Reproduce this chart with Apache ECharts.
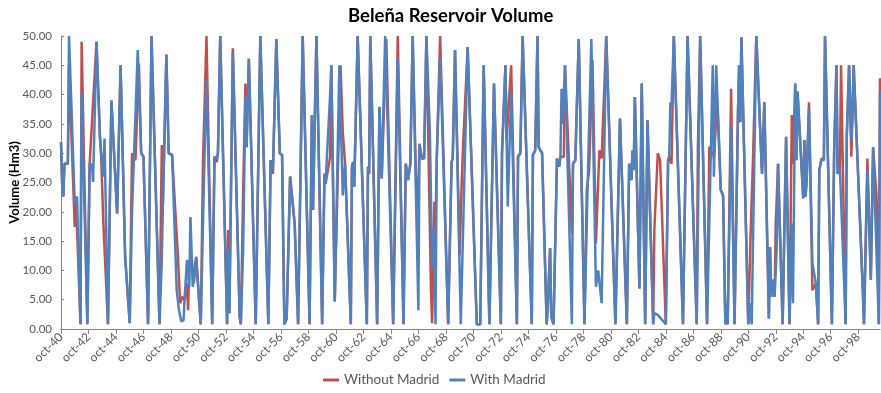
<!DOCTYPE html>
<html>
<head>
<meta charset="utf-8">
<script src="https://cdn.jsdelivr.net/npm/echarts@6/dist/echarts.min.js"></script>
<style>
  html, body { margin: 0; padding: 0; background: #ffffff; }
  #chart { width: 881px; height: 393px; }
</style>
</head>
<body>
<div id="chart"></div>
<script>
// Monthly reservoir volume (Hm3), keyed by months elapsed since October 1940.
// Each pair is [month, volume]; the line joins consecutive monthly readings.
const tickLabels = ['oct-40','oct-42','oct-44','oct-46','oct-48','oct-50','oct-52','oct-54','oct-56','oct-58',
  'oct-60','oct-62','oct-64','oct-66','oct-68','oct-70','oct-72','oct-74','oct-76','oct-78',
  'oct-80','oct-82','oct-84','oct-86','oct-88','oct-90','oct-92','oct-94','oct-96','oct-98'];
const lastMonth = 715;

const withoutMadrid = [
  [0,31.9],[1,24.8],[2,22.6],[3,28.2],[6,28.2],[7,44.7],[12,17.4],[13,22.6],[17,0.8],[18,49],[23,0.8],[25,28.2],[27,35],[31,49],[34,32.8],[35,30],[37,18],[41,0.8],[44,39],[49,19.7],[52,45],[56,12.3],[60,1],
  [62,30],[65,28.8],[68,45.3],[70,30],[72,29.4],[76,0.8],[79,50],[86,0.8],[88,31.4],[89,21.4],[92,46.9],[94,30],[97,29.7],[102,12.7],[104,4.4],[106,5.5],[108,4.9],[110,7.8],[111,3.2],[112,11.2],[114,12.3],[116,7.8],[118,12.3],[122,0.8],[124,28.8],[127,50],
  [132,0.8],[134,29.4],[136,28.5],[137,30],[139,50],[145,0.8],[146,16.9],[147,2.7],[150,47.9],[156,2.1],[157,0.8],[159,23.4],[161,41.9],[162,31],[164,46.1],[170,0.8],[174,50],[181,0.8],[183,28.8],[185,26.5],[188,49.5],[191,30],
  [193,29.7],[195,0.8],[197,1.8],[200,26],[201,26.2],[204,18],[207,0.8],[211,50],[217,0.8],[219,36.5],[220,20.3],[223,50],[228,0.8],[230,26.5],[231,24.8],[235,29.4],[236,45],[239,4.7],[244,45],[246,33.6],[248,28.2],[253,0.8],[254,27.7],[255,28.5],[256,24.3],
  [259,50],[267,0.8],[268,27.7],[269,26.5],[270,50],[276,0.8],[278,37.9],[280,25.7],[284,49.5],[290,0.8],[294,50],[299,0.8],[301,28.2],[303,25.4],[305,28.2],[307,50],[311,16.9],[313,31.6],[315,29.1],[317,29.1],[319,50],[323,6.6],[324,1],[326,21.7],[327,17.4],[328,28.8],[331,50],
  [338,0.8],[339,0.8],[341,28.5],[342,29.1],[344,47.6],[348,12.6],[350,26],[351,31],[355,48.1],[363,0.8],[366,0.8],[369,45],[374,0.8],[378,41.9],[384,0.8],[385,30],[388,45],[389,32.2],[393,45],[398,0.8],[399,29.4],[401,30],[403,50],[404,50],[411,0.8],[412,29.7],[414,30.5],[416,50],[417,31],[420,30],[424,0.8],[425,4.1],[427,13.8],[428,2.1],[430,0.8],[433,29.1],[435,27.7],[436,29.4],[439,29.4],[440,45],[446,16.3],[447,28.2],[449,28.8],[452,49.5],
  [457,0.8],[459,23.7],[461,26.8],[464,45.9],[467,14.6],[470,30.5],[472,29.1],[476,50],[484,0.8],[488,35.9],[494,0.8],[496,28.2],[498,25.4],[499,30.5],[500,27.1],[501,39.6],[505,6.9],[507,41.9],[510,0.8],[512,35.6],[517,0.8],[518,16.9],[521,30],[523,28.8],[528,0.8],[530,28.8],[531,29.4],[533,28.2],[535,50],[543,0.8],[547,50],[555,0.8],[556,30.8],[558,50],[564,0.8],[566,31.1],[570,29.4],[573,38.7],[576,23.7],[578,22.8],[580,0.8],[581,4.4],[582,0.8],[585,41],[588,0.8],
  [591,36.8],[592,45],[593,35.3],[594,49.8],[600,0.8],[602,15.8],[604,28.2],[607,50],[612,26.5],[614,38.7],[618,1.8],[619,14],[620,5.5],[621,8.4],[623,5.5],[624,18],[626,28.2],[630,0.8],[633,32.8],[636,0.8],[638,36.5],[639,28.2],[641,41.9],[642,28.8],[643,40.5],[648,22.3],[649,32.2],[650,22.6],[651,25.4],[653,38.7],[656,6.6],[659,7.8],[661,0.8],[662,27.1],[664,29.1],[666,28.8],[667,50],[673,0.8],[675,30.5],[677,45],[678,26.5],[680,27.4],[681,45],[685,0.8],[686,32.8],[688,45],[690,29.4],[692,45],[700,6.6],[701,0.8],[704,29.1],[707,8.4],[709,31],[712,22.6],[714,0.8],[715,42.8]
];

const withMadrid = [
  [0,31.9],[1,24.8],[2,22.6],[3,28.2],[6,28.2],[7,50],[8,50],[12,21.4],[14,22.6],[17,0.8],[18,40.2],[23,0.8],[25,28.2],[27,28],[28,25.1],[31,49],[34,32.8],[35,30],[37,26],[38,32.5],[41,0.8],[44,39],[49,19.7],[52,45],[56,12.3],[60,1],
  [62,20],[67,47.6],[70,30],[72,29.4],[76,0.8],[79,50],[86,0.8],[88,11.8],[89,21.4],[92,46.7],[94,30],[97,29.7],[101,6.6],[103,3.2],[105,1.3],[107,1.5],[108,5.5],[110,11.8],[112,7.2],[113,19.1],[115,7.2],[118,12.3],[122,0.8],[125,27.1],[127,42.7],
  [132,0.8],[134,29.4],[136,29],[137,30],[139,50],[145,0.8],[146,13.5],[147,2.7],[150,47.3],[156,2.1],[157,0.8],[159,13.5],[161,39.6],[162,31],[164,46.1],[170,0.8],[174,50],[181,0.8],[183,28.8],[185,27.1],[188,49.5],[191,30],
  [193,29.7],[195,0.8],[197,1.8],[200,26],[201,26.2],[204,18],[207,0.8],[211,50],[217,0.8],[219,36.5],[220,20.3],[223,50],[228,0.8],[230,26.5],[231,24.8],[235,40.2],[236,45],[239,4.7],[243,45],[246,22.8],[248,28.2],[253,0.8],[254,27.7],[255,28.5],[256,24.3],
  [259,50],[267,0.8],[268,27.7],[269,26.5],[270,50],[276,0.8],[278,37.9],[280,25.7],[283,50],[290,0.8],[294,46.4],[299,0.8],[301,28.2],[303,25.4],[305,28.2],[307,50],[312,3.2],[313,31.6],[315,29.1],[317,29.1],[319,50],[322,33.8],[324,10.6],[325,17.4],[327,0.8],[328,28.8],[331,46.4],
  [338,0.8],[339,0.8],[341,28.5],[342,29.1],[344,47.6],[349,0.8],[355,48.1],[363,0.8],[366,0.8],[369,45],[374,0.8],[378,41.9],[384,0.8],[385,30],[388,45],[390,20.9],[393,40.5],[398,0.8],[399,29.4],[401,30],[403,50],[404,50],[411,0.8],[412,29.7],[414,30.5],[416,50],[417,31],[420,30],[424,0.8],[425,4.1],[427,13.8],[428,2.1],[430,0.8],[433,29.1],[435,27.7],[436,29.4],[437,41],[438,35],[440,45],[446,0.8],[447,28.2],[449,28.8],[452,49.5],
  [457,0.8],[460,26.5],[461,26.8],[463,49.5],[467,7.2],[469,10],[472,4.4],[476,50],[484,0.8],[488,35.9],[494,0.8],[496,28.2],[498,25.4],[499,30.5],[500,27.1],[501,39.6],[505,6.9],[507,41.9],[510,0.8],[512,35.6],[517,0.8],[518,2.7],[521,2.4],[528,0.8],[530,28.8],[531,29.4],[532,38.7],[533,37.9],[535,50],[543,0.8],[547,50],[555,0.8],[558,50],[564,0.8],[569,45],[570,26],[572,45],[576,23.7],[578,22.8],[580,0.8],[581,4.1],[582,0.8],[585,34.8],[588,0.8],
  [591,36.8],[592,45],[593,35.3],[594,49.8],[600,0.8],[601,4.4],[603,0.8],[607,50],[612,26.5],[614,38.7],[618,1.8],[619,14],[620,5.5],[621,8.4],[623,5.5],[625,14.6],[626,28.2],[630,0.8],[633,32.8],[636,0.8],[638,18],[639,4.4],[641,41.9],[642,28.8],[643,40.5],[648,22.3],[649,32.2],[650,22.6],[651,25.4],[653,37.6],[656,11.2],[659,7.8],[661,0.8],[662,27.1],[664,29.1],[666,28.8],[667,50],[673,0.8],[675,30.5],[677,45],[678,26.5],[680,27.4],[685,0.8],[686,32.8],[688,45],[690,32.2],[691,36.5],[692,45],[700,6.6],[701,0.8],[704,27.1],[707,8.4],[709,31],[714,0.8],[715,40.7]
];

const FONT = 'Lato, "Liberation Sans", sans-serif';
const AXIS_GREY = '#868686';
const LABEL_GREY = '#595959';

const chart = echarts.init(document.getElementById('chart'), null, { renderer: 'canvas' });
chart.setOption({
  animation: false,
  backgroundColor: '#ffffff',
  title: {
    text: 'Beleña Reservoir Volume',
    left: 343,
    top: 2,
    textStyle: { fontFamily: FONT, fontSize: 18.5, fontWeight: 'bold', color: '#000000' }
  },
  legend: {
    left: 318,
    bottom: 1,
    icon: 'rect',
    itemWidth: 16,
    itemHeight: 3,
    itemGap: 10,
    textStyle: { fontFamily: FONT, fontSize: 13.5, color: LABEL_GREY },
    data: ['Without Madrid', 'With Madrid']
  },
  grid: { left: 61, right: 1, top: 36, bottom: 64, outerBoundsMode: 'none', containLabel: false },
  xAxis: {
    type: 'value',
    min: 0,
    max: lastMonth,
    interval: 24,
    splitLine: { show: false },
    axisLine: { lineStyle: { color: AXIS_GREY, width: 1 } },
    axisTick: { show: true, length: 5, lineStyle: { color: AXIS_GREY } },
    axisLabel: {
      rotate: 45,
      margin: 6,
      fontFamily: FONT,
      fontSize: 12,
      color: LABEL_GREY,
      showMaxLabel: false,
      formatter: function (v) {
        const i = v / 24;
        return Number.isInteger(i) && tickLabels[i] ? tickLabels[i] : '';
      }
    }
  },
  yAxis: {
    type: 'value',
    min: 0,
    max: 50,
    interval: 5,
    name: 'Volume (Hm3)',
    nameLocation: 'middle',
    nameGap: 40,
    nameMoveOverlap: false,
    nameTextStyle: { fontFamily: FONT, fontSize: 13, fontWeight: 'bold', color: '#000000' },
    splitLine: { show: false },
    axisLine: { show: true, lineStyle: { color: AXIS_GREY, width: 1 } },
    axisTick: { show: true, inside: true, length: 3, lineStyle: { color: AXIS_GREY } },
    axisLabel: {
      fontFamily: FONT,
      fontSize: 11.5,
      color: LABEL_GREY,
      margin: 9,
      formatter: function (v) { return v.toFixed(2); }
    }
  },
  series: [
    {
      name: 'Without Madrid',
      type: 'line',
      data: withoutMadrid,
      showSymbol: false,
      symbol: 'none',
      clip: true,
      lineStyle: { color: '#C0504D', width: 2.5 },
      itemStyle: { color: '#C0504D' }
    },
    {
      name: 'With Madrid',
      type: 'line',
      data: withMadrid,
      showSymbol: false,
      symbol: 'none',
      clip: true,
      lineStyle: { color: '#4F81BD', width: 2.5 },
      itemStyle: { color: '#4F81BD' }
    }
  ]
});
</script>
</body>
</html>
